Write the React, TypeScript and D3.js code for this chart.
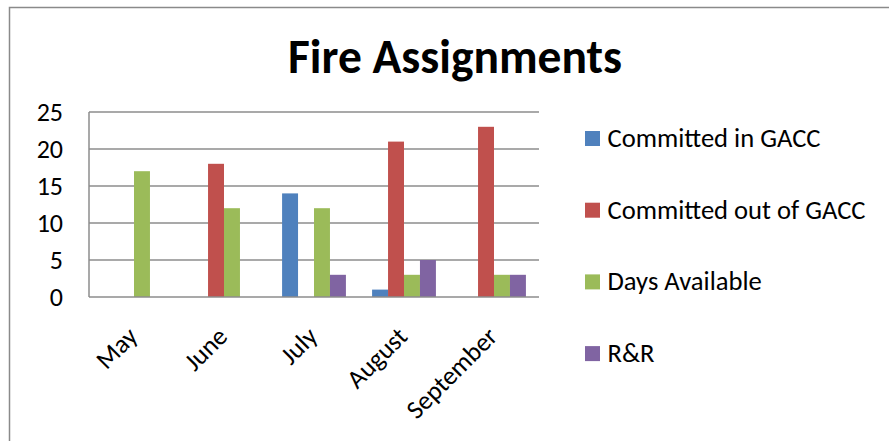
import React, { useRef, useEffect } from 'react';
import * as d3 from 'd3';

const months = ['May', 'June', 'July', 'August', 'September'];
const seriesNames = ['Committed in GACC', 'Committed out of GACC', 'Days Available', 'R&R'];
const committedIn = [0, 0, 14, 1, 0];
const committedOut = [0, 18, 0, 21, 23];
const daysAvailable = [17, 12, 12, 3, 3];
const restRecovery = [0, 0, 3, 5, 3];
const colors = ['#4F81BD', '#C0504D', '#9BBB59', '#8064A2'];
const yTicks = [0, 5, 10, 15, 20, 25];

const FONT = "Carlito, Calibri, 'Open Sans', sans-serif";

const App = () => {
  const svgRef = useRef<SVGSVGElement>(null);

  useEffect(() => {
    const svg = d3.select(svgRef.current);
    svg.selectAll('*').remove();

    const series = [committedIn, committedOut, daysAvailable, restRecovery];
    const left = 89, right = 539, top = 112, bottom = 297;

    // chart frame
    svg.append('rect')
      .attr('x', 9.5).attr('y', 7.5)
      .attr('width', 900).attr('height', 500)
      .attr('fill', '#fff').attr('stroke', '#8a8a8a').attr('stroke-width', 1.5);

    svg.append('text')
      .attr('x', 455).attr('y', 73)
      .attr('text-anchor', 'middle')
      .attr('font-family', FONT).attr('font-weight', 'bold').attr('font-size', 47.5)
      .text('Fire Assignments');

    const x = d3.scaleBand().domain(months).range([left, right]);
    const inner = d3.scaleBand().domain(seriesNames)
      .range([0, x.bandwidth()]).paddingInner(0).paddingOuter(0.82);
    const y = d3.scaleLinear().domain([0, 25]).range([bottom, top]);

    // gridlines
    svg.append('g').selectAll('line')
      .data(yTicks.filter((t) => t > 0))
      .enter().append('line')
      .attr('x1', left).attr('x2', right)
      .attr('y1', (d) => y(d)).attr('y2', (d) => y(d))
      .attr('stroke', '#8c8c8c').attr('stroke-width', 1.5);

    // y labels
    svg.append('g').selectAll('text')
      .data(yTicks)
      .enter().append('text')
      .attr('x', 63).attr('y', (d) => y(d) + 9)
      .attr('text-anchor', 'end')
      .attr('font-family', FONT).attr('font-size', 26)
      .text((d) => d);

    // bars
    series.forEach((vals, si) => {
      svg.append('g').selectAll('rect')
        .data(vals)
        .enter().append('rect')
        .attr('x', (d, i) => (x(months[i]) as number) + (inner(seriesNames[si]) as number))
        .attr('y', (d) => y(d))
        .attr('width', inner.bandwidth())
        .attr('height', (d) => bottom - y(d))
        .attr('fill', colors[si]);
    });

    // axes
    svg.append('line')
      .attr('x1', left).attr('x2', left).attr('y1', top).attr('y2', bottom)
      .attr('stroke', '#8c8c8c').attr('stroke-width', 1.5);
    svg.append('line')
      .attr('x1', left).attr('x2', right).attr('y1', bottom).attr('y2', bottom)
      .attr('stroke', '#8c8c8c').attr('stroke-width', 1.5);

    // x labels
    svg.append('g').selectAll('text')
      .data(months)
      .enter().append('text')
      .attr('transform', (d) => `translate(${(x(d) as number) + x.bandwidth() / 2 + 5},${bottom + 41}) rotate(-45)`)
      .attr('text-anchor', 'end')
      .attr('font-family', FONT).attr('font-size', 26)
      .text((d) => d);

    // legend
    const legend = svg.append('g').selectAll('g')
      .data(seriesNames)
      .enter().append('g')
      .attr('transform', (d, i) => `translate(585,${131 + i * 71.7})`);
    legend.append('rect')
      .attr('width', 15).attr('height', 15)
      .attr('fill', (d, i) => colors[i]);
    legend.append('text')
      .attr('x', 22.5).attr('y', 16)
      .attr('font-family', FONT).attr('font-size', 26.6)
      .text((d) => d);
  }, []);

  return (
    <svg ref={svgRef} width={889} height={441}
      style={{ position: 'absolute', left: 0, top: 0 }} />
  );
};

export default App;
